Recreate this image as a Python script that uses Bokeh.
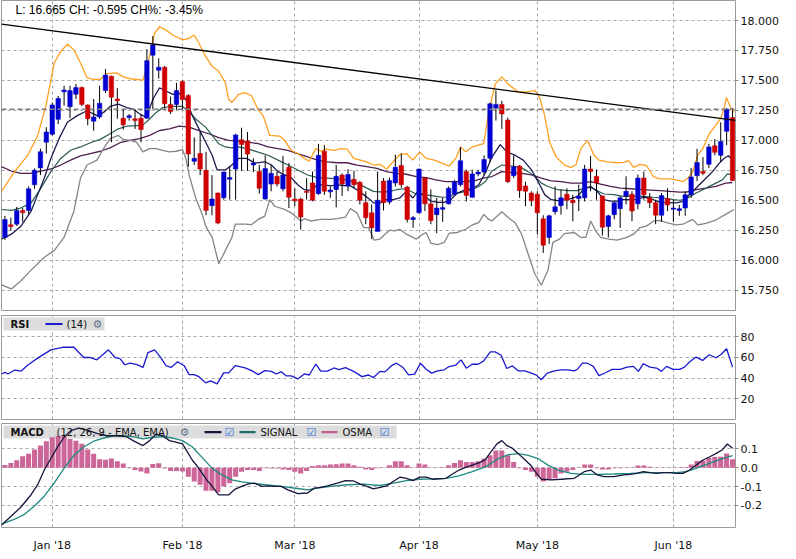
from bokeh.plotting import figure
from bokeh.models import (Range1d, FixedTicker, Grid, Label, BoxAnnotation, Span,
                          ColumnDataSource, NumeralTickFormatter)
from bokeh.layouts import column
from bokeh.embed import file_html
from bokeh.resources import INLINE

# ---------------- data ----------------
month_idx = [8, 30, 49, 70, 90, 113]
month_labels = ["Jan '18", "Feb '18", "Mar '18", "Apr '18", "May '18", "Jun '18"]

opens = [16.19, 16.295, 16.30, 16.415, 16.415, 16.63, 16.77, 16.985, 17.05, 17.175,
 17.405, 17.28, 17.385, 17.44, 17.295, 17.16, 17.195, 17.415, 17.535, 17.345,
 17.185, 17.19, 17.18, 17.185, 17.185, 17.71, 17.585, 17.61, 17.30, 17.30,
 17.49, 17.375, 16.825, 16.89, 16.75, 16.455, 16.56, 16.52, 16.675, 16.76,
 17.005, 16.995, 16.795, 16.74, 16.51, 16.635, 16.70, 16.595, 16.775, 16.51,
 16.51, 16.575, 16.645, 16.555, 16.91, 16.57, 16.59, 16.71, 16.62, 16.675,
 16.65, 16.48, 16.395, 16.24, 16.66, 16.485, 16.645, 16.79, 16.61, 16.34,
 16.395, 16.685, 16.47, 16.38, 16.425, 16.47, 16.55, 16.63, 16.74, 16.525,
 16.72, 16.735, 16.85, 17.27, 17.30, 17.17, 16.705, 16.785, 16.62, 16.56,
 16.55, 16.345, 16.19, 16.405, 16.455, 16.55, 16.50, 16.515, 16.52, 16.76,
 16.70, 16.535, 16.28, 16.38, 16.43, 16.535, 16.55, 16.47, 16.685, 16.52,
 16.48, 16.375, 16.515, 16.425, 16.415, 16.435, 16.545, 16.705, 16.74, 16.80,
 16.955, 16.875, 17.075, 17.19]
highs = [16.37, 16.355, 16.445, 16.435, 16.615, 16.765, 16.93, 17.11, 17.315, 17.37,
 17.455, 17.455, 17.47, 17.45, 17.30, 17.345, 17.455, 17.595, 17.54, 17.435,
 17.26, 17.22, 17.26, 17.22, 17.76, 17.87, 17.685, 17.62, 17.365, 17.48,
 17.50, 17.385, 17.025, 17.07, 16.905, 16.71, 16.565, 16.74, 16.78, 17.055,
 17.105, 17.07, 16.85, 16.795, 16.875, 16.795, 16.74, 16.87, 16.81, 16.60,
 16.52, 16.685, 16.74, 16.97, 16.96, 16.615, 16.795, 16.725, 16.76, 16.745,
 16.66, 16.575, 16.465, 16.74, 16.685, 16.69, 16.88, 16.89, 16.62, 16.37,
 16.765, 16.69, 16.59, 16.52, 16.52, 16.615, 16.67, 16.945, 16.755, 16.755,
 16.755, 16.875, 17.315, 17.415, 17.33, 17.19, 16.875, 16.795, 16.655, 16.575,
 16.575, 16.375, 16.38, 16.615, 16.59, 16.60, 16.545, 16.63, 16.795, 16.87,
 16.755, 16.54, 16.38, 16.49, 16.535, 16.70, 16.575, 16.715, 16.74, 16.56,
 16.505, 16.56, 16.60, 16.505, 16.46, 16.575, 16.77, 16.93, 16.86, 16.97,
 17.01, 17.15, 17.27, 17.27]
lows = [16.17, 16.245, 16.285, 16.32, 16.38, 16.595, 16.71, 16.89, 17.04, 17.135,
 17.29, 17.185, 17.345, 17.285, 17.125, 17.08, 17.18, 17.395, 16.985, 17.18,
 17.09, 17.165, 17.095, 16.985, 17.18, 17.26, 17.515, 17.26, 17.22, 17.255,
 17.255, 16.78, 16.795, 16.71, 16.375, 16.375, 16.30, 16.505, 16.505, 16.505,
 16.745, 16.745, 16.735, 16.555, 16.505, 16.575, 16.615, 16.575, 16.435, 16.45,
 16.255, 16.505, 16.49, 16.545, 16.545, 16.52, 16.44, 16.535, 16.575, 16.60,
 16.465, 16.30, 16.175, 16.24, 16.415, 16.465, 16.615, 16.605, 16.315, 16.27,
 16.39, 16.41, 16.30, 16.225, 16.32, 16.465, 16.545, 16.615, 16.49, 16.52,
 16.70, 16.71, 16.82, 17.165, 17.095, 16.645, 16.685, 16.52, 16.45, 16.45,
 16.215, 16.06, 16.135, 16.38, 16.38, 16.425, 16.325, 16.41, 16.49, 16.575,
 16.505, 16.205, 16.19, 16.34, 16.27, 16.465, 16.325, 16.425, 16.505, 16.435,
 16.30, 16.32, 16.41, 16.32, 16.37, 16.37, 16.52, 16.66, 16.71, 16.77,
 16.875, 16.82, 16.96, 16.66]
closes = [16.34, 16.28, 16.415, 16.395, 16.595, 16.75, 16.905, 17.07, 17.295, 17.35,
 17.42, 17.415, 17.44, 17.30, 17.18, 17.195, 17.31, 17.545, 17.36, 17.33,
 17.13, 17.205, 17.165, 17.09, 17.665, 17.795, 17.61, 17.305, 17.24, 17.415,
 17.34, 16.885, 16.85, 16.76, 16.415, 16.51, 16.31, 16.735, 16.69, 17.045,
 16.965, 16.885, 16.81, 16.60, 16.765, 16.725, 16.635, 16.71, 16.525, 16.495,
 16.36, 16.565, 16.50, 16.875, 16.575, 16.585, 16.70, 16.635, 16.715, 16.63,
 16.50, 16.355, 16.27, 16.50, 16.48, 16.665, 16.775, 16.63, 16.34, 16.355,
 16.76, 16.47, 16.33, 16.435, 16.44, 16.60, 16.655, 16.83, 16.54, 16.72,
 16.735, 16.84, 17.305, 17.30, 17.22, 16.655, 16.78, 16.58, 16.575, 16.495,
 16.395, 16.125, 16.37, 16.445, 16.52, 16.50, 16.48, 16.535, 16.76, 16.74,
 16.645, 16.275, 16.37, 16.48, 16.52, 16.575, 16.41, 16.685, 16.545, 16.48,
 16.375, 16.54, 16.46, 16.435, 16.43, 16.545, 16.695, 16.815, 16.725, 16.945,
 16.90, 16.99, 17.26, 16.665]

upper_band = [[-0.58,16.574],[1.64,16.739],[3.87,16.876],[5.54,17.041],[6.93,17.288],[8.32,17.645],[9.43,17.742],[10.55,17.802],[11.66,17.755],[12.77,17.645],[13.88,17.522],[15.0,17.508],[16.11,17.508],[17.22,17.557],[18.89,17.563],[20.0,17.53],[21.12,17.514],[23.34,17.503],[24.18,17.645],[25.29,17.893],[26.13,17.948],[27.24,17.92],[28.35,17.879],[30.02,17.838],[31.14,17.851],[31.97,17.879],[32.8,17.81],[33.92,17.70],[35.03,17.618],[36.14,17.577],[37.26,17.48],[37.81,17.343],[38.37,17.316],[39.48,17.384],[40.6,17.398],[41.71,17.37],[42.82,17.255],[43.65,17.206],[44.77,17.041],[46.44,17.036],[47.27,17.0],[48.38,16.917],[49.5,16.89],[50.61,16.849],[51.44,16.827],[52.56,16.931],[53.39,16.909],[54.23,16.926],[55.62,16.917],[56.73,16.931],[57.84,16.926],[58.96,16.849],[60.07,16.835],[61.18,16.821],[62.3,16.794],[63.41,16.8],[64.52,16.761],[65.64,16.821],[66.75,16.882],[67.86,16.89],[68.97,16.835],[70.09,16.904],[71.2,16.849],[72.59,16.835],[73.98,16.808],[75.1,16.786],[76.21,16.849],[77.04,16.945],[77.88,16.904],[78.99,16.945],[80.94,16.972],[81.77,17.233],[82.89,17.47],[84.0,17.53],[85.12,17.467],[86.79,17.404],[88.45,17.404],[89.57,17.417],[90.4,17.357],[91.24,17.206],[92.07,16.986],[93.18,16.862],[94.58,16.794],[95.69,16.775],[96.52,16.794],[97.36,16.931],[98.47,17.0],[99.58,16.876],[100.42,16.835],[101.81,16.821],[103.48,16.813],[104.59,16.816],[105.43,16.83],[106.26,16.775],[107.38,16.8],[108.49,16.788],[109.6,16.698],[110.71,16.678],[112.38,16.678],[113.5,16.67],[114.61,16.656],[115.44,16.684],[116.28,16.739],[117.11,16.876],[117.95,16.93],[119.06,17.055],[120.17,17.125],[121.01,17.185],[121.56,17.261],[121.95,17.357],[122.68,17.274],[123.23,17.233]]
lower_band = [[-0.58,15.794],[1.09,15.76],[2.75,15.83],[4.09,15.90],[6.65,16.025],[8.32,16.08],[9.99,16.19],[11.66,16.409],[12.77,16.684],[13.88,16.794],[15.55,16.835],[16.67,16.931],[17.78,17.014],[19.17,17.041],[20.0,17.008],[21.12,17.0],[22.23,16.986],[22.79,16.945],[23.34,16.904],[24.46,16.931],[25.57,16.931],[26.68,16.917],[27.8,16.904],[28.91,16.909],[30.02,16.923],[30.58,16.849],[31.14,16.711],[32.25,16.519],[33.36,16.382],[33.92,16.286],[35.03,16.19],[36.14,15.97],[37.26,16.08],[38.37,16.19],[38.93,16.3],[40.6,16.3],[41.71,16.297],[42.82,16.34],[43.93,16.368],[44.77,16.505],[45.6,16.45],[47.27,16.423],[48.38,16.395],[50.05,16.327],[50.61,16.346],[51.72,16.327],[53.39,16.34],[55.06,16.34],[56.17,16.346],[57.57,16.36],[58.4,16.431],[59.51,16.395],[60.63,16.272],[61.46,16.272],[62.41,16.167],[63.41,16.176],[64.24,16.217],[65.08,16.25],[65.91,16.244],[66.75,16.258],[67.86,16.217],[69.53,16.176],[70.64,16.217],[71.2,16.231],[72.03,16.14],[73.15,16.129],[74.26,16.148],[75.1,16.225],[76.49,16.231],[77.88,16.258],[78.99,16.294],[80.1,16.313],[80.94,16.382],[81.77,16.34],[82.33,16.327],[84.0,16.404],[85.12,16.354],[86.23,16.313],[87.34,16.217],[88.45,16.052],[89.57,15.887],[90.68,15.791],[91.79,15.915],[92.63,16.148],[93.74,16.176],[94.58,16.222],[96.25,16.231],[97.36,16.19],[98.19,16.19],[99.03,16.327],[99.86,16.244],[100.7,16.19],[102.09,16.176],[103.48,16.167],[105.15,16.19],[106.26,16.217],[107.38,16.272],[108.49,16.286],[109.6,16.325],[110.71,16.332],[111.83,16.313],[113.5,16.294],[114.61,16.3],[115.44,16.321],[116.28,16.34],[117.11,16.294],[118.5,16.308],[120.17,16.335],[121.84,16.382],[123.23,16.423]]
ma_fast = [[-0.58,16.176],[1.09,16.217],[2.75,16.286],[4.42,16.409],[5.54,16.547],[6.65,16.684],[7.76,16.849],[9.15,17.014],[10.55,17.151],[12.22,17.206],[13.88,17.247],[15.55,17.206],[16.67,17.233],[17.78,17.283],[19.17,17.302],[20.56,17.274],[21.67,17.261],[22.79,17.22],[23.9,17.192],[25.02,17.343],[26.13,17.439],[27.24,17.412],[28.35,17.384],[29.47,17.393],[30.58,17.343],[31.69,17.206],[32.8,17.096],[33.92,16.986],[35.03,16.876],[35.87,16.753],[37.26,16.753],[38.37,16.794],[39.48,16.849],[40.87,16.849],[42.27,16.81],[43.93,16.821],[45.04,16.794],[46.16,16.739],[47.27,16.711],[48.38,16.689],[49.5,16.629],[50.61,16.588],[51.72,16.582],[52.84,16.629],[53.95,16.629],[55.06,16.62],[56.17,16.629],[57.29,16.623],[58.4,16.62],[59.51,16.588],[60.63,16.547],[61.74,16.505],[62.3,16.478],[63.41,16.478],[64.52,16.505],[65.64,16.505],[66.75,16.519],[67.86,16.574],[68.97,16.519],[69.81,16.574],[70.92,16.538],[72.03,16.492],[73.15,16.483],[74.26,16.483],[75.37,16.505],[76.49,16.56],[77.88,16.588],[78.99,16.596],[80.1,16.629],[81.22,16.73],[82.33,16.86],[83.72,16.964],[84.84,16.904],[86.23,16.876],[87.62,16.835],[89.01,16.753],[90.12,16.656],[91.24,16.547],[92.35,16.505],[93.46,16.497],[94.85,16.505],[95.69,16.514],[96.8,16.533],[97.91,16.596],[99.03,16.615],[100.14,16.574],[101.25,16.505],[102.37,16.492],[103.48,16.492],[104.59,16.505],[106.82,16.505],[107.93,16.525],[109.04,16.519],[110.16,16.492],[111.27,16.483],[113.5,16.478],[114.61,16.49],[115.16,16.519],[116.28,16.574],[117.39,16.629],[118.5,16.684],[119.62,16.739],[120.73,16.808],[121.56,16.849],[122.29,16.871],[123.23,16.827]]
ma_mid = [[-0.58,16.423],[1.09,16.415],[2.75,16.437],[4.42,16.478],[6.09,16.601],[7.76,16.739],[9.43,16.849],[11.1,16.917],[12.77,16.945],[14.44,16.98],[16.11,17.008],[17.78,17.055],[19.17,17.096],[20.56,17.118],[22.23,17.123],[23.34,17.129],[24.46,17.178],[25.57,17.233],[26.68,17.274],[28.35,17.283],[30.02,17.283],[31.14,17.239],[32.25,17.178],[33.92,17.11],[35.03,17.041],[36.14,16.972],[37.26,16.945],[38.37,16.937],[39.48,16.945],[40.87,16.931],[42.27,16.91],[44.49,16.876],[46.16,16.835],[47.83,16.794],[49.5,16.753],[51.17,16.711],[52.84,16.689],[54.51,16.684],[56.17,16.678],[57.84,16.67],[59.51,16.643],[61.18,16.601],[62.3,16.574],[63.97,16.568],[65.08,16.574],[66.19,16.588],[67.3,16.596],[68.42,16.58],[69.53,16.552],[70.64,16.547],[71.76,16.541],[72.87,16.533],[73.98,16.525],[75.1,16.527],[76.21,16.555],[77.88,16.574],[78.99,16.588],[80.1,16.615],[81.22,16.656],[82.33,16.745],[84.0,16.794],[85.67,16.786],[87.34,16.772],[88.45,16.739],[89.57,16.698],[90.68,16.643],[91.79,16.615],[93.46,16.588],[95.13,16.58],[96.8,16.58],[97.91,16.601],[99.03,16.607],[100.14,16.58],[101.25,16.552],[102.92,16.547],[104.59,16.533],[106.26,16.533],[107.93,16.533],[109.6,16.525],[111.27,16.519],[112.94,16.505],[114.05,16.5],[115.16,16.51],[116.83,16.56],[118.5,16.601],[120.17,16.643],[121.29,16.67],[122.12,16.72],[123.23,16.711]]
ma_slow = [[-0.58,16.78],[1.09,16.744],[2.75,16.725],[4.42,16.725],[6.09,16.744],[7.76,16.761],[9.43,16.794],[11.1,16.835],[12.77,16.871],[14.44,16.89],[16.11,16.909],[17.78,16.937],[19.45,16.98],[21.12,17.0],[22.79,17.014],[24.46,17.041],[26.13,17.082],[27.8,17.096],[29.47,17.118],[31.14,17.11],[32.8,17.082],[34.47,17.055],[36.14,17.022],[37.81,17.0],[39.48,16.994],[41.15,16.986],[42.82,16.972],[44.49,16.945],[46.16,16.931],[47.83,16.917],[49.5,16.89],[51.17,16.862],[52.84,16.835],[54.51,16.821],[56.17,16.813],[57.84,16.813],[59.51,16.794],[61.18,16.78],[62.85,16.766],[64.52,16.739],[66.19,16.725],[67.86,16.717],[69.53,16.698],[71.2,16.689],[72.87,16.67],[74.54,16.656],[76.21,16.656],[77.88,16.656],[79.55,16.665],[81.22,16.689],[82.33,16.698],[84.0,16.739],[85.67,16.731],[87.34,16.725],[89.01,16.711],[90.68,16.684],[92.35,16.662],[94.02,16.656],[95.69,16.643],[97.36,16.643],[99.03,16.656],[100.7,16.634],[102.37,16.615],[104.04,16.601],[105.71,16.596],[107.38,16.59],[109.04,16.585],[110.71,16.58],[112.38,16.574],[114.05,16.568],[115.16,16.568],[116.83,16.588],[118.5,16.601],[120.17,16.615],[121.84,16.643],[122.96,16.648]]
trend_x = [-0.58, 123.5]
trend_y = [17.97, 17.166]

rsi = [[-0.58,44.0],[0.0,45.6],[0.53,44.0],[1.64,47.8],[2.75,46.8],[3.87,52.6],[5.54,59.3],[7.76,67.3],[8.32,67.9],[9.71,69.8],[11.66,69.8],[12.49,64.7],[13.33,59.9],[14.44,59.9],[15.55,57.7],[17.5,67.3],[18.61,59.9],[19.45,58.9],[20.28,52.9],[21.12,54.5],[22.23,53.2],[23.34,50.3],[24.18,64.7],[25.29,67.3],[26.13,61.5],[27.24,52.0],[28.07,50.3],[29.19,55.8],[30.3,52.0],[31.14,43.4],[31.97,43.4],[32.8,41.4],[33.92,35.4],[34.75,37.3],[35.87,34.4],[36.98,45.0],[37.81,45.0],[38.93,52.0],[40.6,49.8],[41.71,47.2],[42.82,43.4],[43.93,47.2],[45.04,46.5],[45.88,44.0],[46.72,46.2],[47.55,42.1],[48.38,42.1],[49.5,39.2],[50.61,44.0],[51.44,43.0],[52.56,53.6],[53.39,46.8],[54.51,46.8],[55.62,49.8],[56.45,48.2],[57.57,50.1],[58.68,47.2],[59.51,44.6],[60.35,41.4],[61.46,43.0],[62.3,40.5],[63.41,46.5],[64.24,46.0],[65.35,52.0],[66.19,54.4],[67.3,50.2],[68.25,43.2],[69.25,43.8],[70.25,54.4],[71.2,48.6],[72.14,44.8],[73.15,47.0],[74.26,48.0],[75.09,51.2],[76.2,52.5],[77.1,57.6],[77.99,49.6],[78.99,53.4],[80.0,53.4],[80.94,56.6],[82.05,65.3],[82.88,65.3],[83.88,62.1],[84.83,49.3],[85.78,51.8],[86.78,47.0],[87.89,47.0],[89.0,44.8],[89.84,42.9],[90.67,38.4],[91.68,44.8],[92.9,47.0],[94.01,48.0],[95.13,48.0],[96.24,47.0],[96.8,48.6],[97.63,54.4],[98.47,54.4],[99.47,51.4],[100.41,42.4],[101.53,45.2],[102.64,48.4],[104.03,48.4],[105.15,50.6],[106.26,51.3],[107.09,46.5],[107.93,53.9],[109.04,50.6],[110.15,49.7],[110.99,46.5],[111.82,51.3],[112.94,48.4],[114.05,48.4],[114.88,50.6],[115.72,55.5],[116.83,60.3],[117.94,57.1],[119.06,62.6],[120.17,59.7],[121.0,62.6],[122.0,68.4],[123.0,50.6]]

macd = [[-0.58,-0.304],[1.09,-0.256],[2.75,-0.207],[4.42,-0.143],[5.54,-0.09],[6.65,-0.012],[7.76,0.049],[8.88,0.11],[9.99,0.162],[11.1,0.197],[12.49,0.21],[13.88,0.20],[15.55,0.183],[17.22,0.17],[18.89,0.17],[20.56,0.165],[21.67,0.144],[23.34,0.118],[24.46,0.144],[25.57,0.179],[26.68,0.17],[27.8,0.144],[28.91,0.136],[30.02,0.127],[30.86,0.083],[31.69,0.04],[32.8,-0.003],[33.92,-0.056],[35.03,-0.099],[36.14,-0.144],[37.81,-0.144],[38.93,-0.113],[40.04,-0.099],[41.15,-0.085],[42.27,-0.082],[43.38,-0.099],[44.49,-0.096],[45.6,-0.099],[46.72,-0.099],[47.83,-0.117],[49.5,-0.137],[51.17,-0.134],[52.28,-0.108],[53.39,-0.104],[54.51,-0.096],[56.18,-0.082],[57.57,-0.068],[58.96,-0.07],[60.07,-0.087],[61.19,-0.099],[62.3,-0.112],[63.42,-0.104],[64.53,-0.096],[65.64,-0.073],[66.75,-0.05],[67.87,-0.056],[68.98,-0.068],[70.09,-0.05],[71.21,-0.05],[72.32,-0.061],[74.55,-0.056],[75.66,-0.033],[76.77,-0.012],[77.88,0.002],[79.0,0.014],[80.11,0.026],[81.22,0.043],[82.34,0.092],[83.17,0.127],[84.0,0.144],[84.84,0.118],[85.67,0.106],[86.79,0.075],[87.9,0.043],[89.01,0.009],[89.85,-0.03],[90.68,-0.061],[92.35,-0.064],[94.02,-0.061],[96.25,-0.056],[97.92,-0.021],[99.03,-0.012],[100.14,-0.038],[101.26,-0.047],[102.93,-0.047],[104.59,-0.038],[105.71,-0.035],[106.82,-0.03],[107.93,-0.021],[109.05,-0.026],[110.16,-0.03],[111.27,-0.026],[112.39,-0.026],[113.5,-0.03],[114.61,-0.03],[115.73,-0.012],[116.84,0.014],[117.95,0.04],[119.06,0.057],[120.18,0.075],[121.29,0.096],[122.12,0.126],[123.0,0.103]]
signal = [[-0.58,-0.299],[1.64,-0.273],[3.31,-0.247],[4.98,-0.203],[6.65,-0.151],[8.32,-0.082],[9.99,-0.003],[11.66,0.066],[13.33,0.11],[15.0,0.141],[16.67,0.158],[18.34,0.17],[20.0,0.17],[21.67,0.165],[23.34,0.153],[25.02,0.162],[26.68,0.165],[28.35,0.158],[30.02,0.144],[31.69,0.11],[33.36,0.054],[35.03,-0.003],[36.7,-0.038],[38.37,-0.064],[40.04,-0.075],[41.71,-0.082],[43.93,-0.09],[46.72,-0.099],[49.5,-0.11],[51.17,-0.117],[52.84,-0.108],[55.06,-0.099],[57.85,-0.09],[60.63,-0.087],[63.42,-0.094],[65.64,-0.082],[67.87,-0.068],[70.09,-0.061],[72.32,-0.059],[74.55,-0.056],[76.77,-0.043],[79.0,-0.021],[81.22,0.005],[83.45,0.049],[85.12,0.07],[86.79,0.075],[88.46,0.066],[90.13,0.049],[91.8,0.014],[93.47,-0.012],[95.69,-0.03],[97.92,-0.035],[100.14,-0.035],[102.93,-0.033],[105.71,-0.03],[108.49,-0.026],[111.27,-0.026],[113.5,-0.026],[115.17,-0.021],[116.84,-0.003],[119.06,0.023],[121.29,0.049],[123.0,0.064]]
osma = [0.015, 0.026, 0.04, 0.061, 0.075, 0.097, 0.118, 0.141, 0.162, 0.17,
 0.17, 0.153, 0.144, 0.127, 0.097, 0.075, 0.045, 0.043, 0.049, 0.035,
 0.023, -0.003, -0.012, -0.02, -0.03, 0.02, 0.024, -0.004, -0.017, -0.017,
 -0.02, -0.047, -0.073, -0.09, -0.122, -0.122, -0.13, -0.1, -0.082, -0.047,
 -0.021, -0.012, -0.012, -0.017, -0.003, -0.004, -0.004, -0.009, -0.012, -0.021,
 -0.03, -0.017, 0.009, 0.014, 0.014, 0.017, 0.019, 0.023, 0.023, 0.014,
 0.005, -0.009, -0.012, -0.003, 0.002, 0.014, 0.035, 0.035, 0.014, 0.002,
 0.023, 0.017, 0.002, 0.002, 0.003, 0.014, 0.026, 0.04, 0.031, 0.031,
 0.035, 0.049, 0.066, 0.092, 0.092, 0.066, 0.031, -0.003, -0.012, -0.021,
 -0.047, -0.073, -0.064, -0.056, -0.03, -0.021, -0.012, 0.002, 0.017, 0.017,
 -0.003, -0.009, -0.009, -0.003, -0.003, 0.002, 0.002, 0.012, 0.012, 0.005,
 0.002, 0.001, 0.001, 0.002, 0.002, 0.003, 0.017, 0.036, 0.038, 0.053,
 0.057, 0.058, 0.076, 0.045]

# ---------------- styling ----------------
FW = 734
XR = Range1d(-0.58, 123.5)
GRID_C = "#a6a6a6"
TICK_FONT = "DejaVu Sans"
UP_C, DN_C = "#0000d0", "#d00000"


def make_fig(fh, y0, y1, yticks, bottom, with_xaxis):
    p = figure(frame_width=FW, frame_height=fh, x_range=XR, y_range=Range1d(y0, y1),
               y_axis_location="right", x_axis_location="below" if with_xaxis else None,
               toolbar_location=None, output_backend="svg",
               min_border_left=1, min_border_right=50, min_border_top=0,
               min_border_bottom=bottom)
    p.outline_line_color = "#9a9a9a"
    p.outline_line_width = 1
    for g in p.xgrid:
        g.visible = False
    p.add_layout(Grid(dimension=0, ticker=FixedTicker(ticks=month_idx),
                      grid_line_color=GRID_C, grid_line_dash="3 3"))
    p.yaxis.ticker = FixedTicker(ticks=yticks)
    p.ygrid.grid_line_color = GRID_C
    p.ygrid.grid_line_dash = "3 3"
    ax = p.yaxis[0]
    ax.axis_line_color = None
    ax.major_tick_line_color = "#888888"
    ax.major_tick_out = 3
    ax.major_tick_in = 0
    ax.minor_tick_line_color = None
    ax.major_label_standoff = 2
    ax.major_label_text_font = TICK_FONT
    ax.major_label_text_font_size = "11px"
    ax.major_label_text_color = "#111111"
    return p


def sx(p, px):
    return p.x_range.start + (p.x_range.end - p.x_range.start) * px / p.frame_width


def sy(p, py):
    return p.y_range.end - (p.y_range.end - p.y_range.start) * py / p.frame_height


def xs(pts):
    return [a for a, _ in pts]


def ys(pts):
    return [b for _, b in pts]


# ---------------- price panel ----------------
price_ticks = [15.75 + 0.25 * k for k in range(10)]
p1 = make_fig(310, 15.58, 18.167, price_ticks, 5, False)
p1.yaxis.formatter = NumeralTickFormatter(format="0.000")

p1.line(xs(ma_slow), ys(ma_slow), line_color="#4f1f4f", line_width=1.3)
p1.line(xs(ma_mid), ys(ma_mid), line_color="#2c5c52", line_width=1.2)
p1.line(xs(ma_fast), ys(ma_fast), line_color="#1c1c50", line_width=1.3)
p1.line(xs(lower_band), ys(lower_band), line_color="#858585", line_width=1.3)
p1.line(xs(upper_band), ys(upper_band), line_color="#ffa020", line_width=1.3)

idx = list(range(len(closes)))
colors = [UP_C if c >= o else DN_C for o, c in zip(opens, closes)]
src = ColumnDataSource(dict(x=idx, o=opens, h=highs, l=lows, c=closes,
                            top=[max(o, c) for o, c in zip(opens, closes)],
                            bot=[min(o, c) for o, c in zip(opens, closes)],
                            col=colors))
p1.segment(x0="x", y0="l", x1="x", y1="h", source=src, line_color="black", line_width=1)
p1.vbar(x="x", width=0.76, top="top", bottom="bot", source=src,
        fill_color="col", line_color="col", line_width=0.5)

p1.line(trend_x, trend_y, line_color="black", line_width=1.3)
p1.add_layout(Span(location=closes[-2], dimension="width", line_color="#808080",
                   line_dash="5 3", line_width=1.4))

last = closes[-1]
ch = closes[-1] - closes[-2]
pct = ch / closes[-2] * 100
p1.add_layout(Label(x=sx(p1, 14), y=sy(p1, 9), text=f"L: {last:.3f} CH: {ch:.3f} CH%: {pct:.2f}%",
                    text_font="Liberation Sans", text_font_size="12px",
                    text_baseline="middle", text_color="#000000"))

# ---------------- RSI panel ----------------
p2 = make_fig(104, 0.0, 100.5, [20, 40, 60, 80], 4, False)
p2.add_layout(BoxAnnotation(left=sx(p2, 2), right=sx(p2, 103), top=sy(p2, 2), bottom=sy(p2, 15),
                            fill_color="#dcdcdc", fill_alpha=1.0, line_color=None, level="underlay"))
p2.line(xs(rsi), ys(rsi), line_color="#1a1ad0", line_width=1.3)
p2.line([sx(p2, 44), sx(p2, 61)], [sy(p2, 8.5)] * 2, line_color="#1a1ad0", line_width=2.2)
hdr = dict(text_font="DejaVu Sans", text_font_size="10px", text_baseline="middle", text_color="#111111")
p2.add_layout(Label(x=sx(p2, 9), y=sy(p2, 8.5), text="RSI", text_font_style="bold", **hdr))
p2.add_layout(Label(x=sx(p2, 65), y=sy(p2, 8.5), text="(14)", **hdr))
icon = dict(text_font="DejaVu Sans", text_font_size="11px", text_baseline="middle",
            text_align="center", text_color="#5f7389")
p2.add_layout(Label(x=sx(p2, 96), y=sy(p2, 8.5), text="\u2699", **icon))

# ---------------- MACD panel ----------------
p3 = make_fig(104, -0.317, 0.235, [-0.2, -0.1, 0.0, 0.1], 0, True)
p3.yaxis.formatter = NumeralTickFormatter(format="0.0")
p3.add_layout(BoxAnnotation(left=sx(p3, 2), right=sx(p3, 395), top=sy(p3, 2), bottom=sy(p3, 15),
                            fill_color="#dcdcdc", fill_alpha=1.0, line_color=None, level="underlay"))
p3.vbar(x=idx, width=0.85, top=[max(v, 0) for v in osma], bottom=[min(v, 0) for v in osma],
        fill_color="#cc6699", line_color=None)
p3.line(xs(signal), ys(signal), line_color="#1f8a80", line_width=1.3)
p3.line(xs(macd), ys(macd), line_color="#16163c", line_width=1.3)

cy = sy(p3, 8.7)
p3.add_layout(Label(x=sx(p3, 9), y=cy, text="MACD", text_font_style="bold", **hdr))
p3.add_layout(Label(x=sx(p3, 55), y=cy, text="(12, 26, 9 - EMA, EMA)", **hdr))
p3.add_layout(Label(x=sx(p3, 183), y=cy, text="\u2699", **icon))
p3.line([sx(p3, 203), sx(p3, 220)], [cy, cy], line_color="#16163c", line_width=2.2)
p3.line([sx(p3, 238), sx(p3, 254)], [cy, cy], line_color="#1f6f68", line_width=2.2)
p3.line([sx(p3, 320), sx(p3, 336)], [cy, cy], line_color="#c06090", line_width=2.2)
p3.add_layout(Label(x=sx(p3, 259), y=cy, text="SIGNAL", **hdr))
p3.add_layout(Label(x=sx(p3, 341), y=cy, text="OSMA", **hdr))
chk = dict(text_font="DejaVu Sans", text_font_size="11px", text_baseline="middle",
           text_align="center", text_color="#2a6fd8")
for cxp in (228, 310, 383):
    p3.add_layout(Label(x=sx(p3, cxp), y=cy, text="\u2611", **chk))

xa = p3.xaxis[0]
xa.ticker = FixedTicker(ticks=month_idx)
xa.major_label_overrides = {t: l for t, l in zip(month_idx, month_labels)}
xa.axis_line_color = None
xa.major_tick_line_color = None
xa.minor_tick_line_color = None
xa.major_label_standoff = 5
xa.major_label_text_font = TICK_FONT
xa.major_label_text_font_size = "11px"
xa.major_label_text_color = "#111111"

layout = column(p1, p2, p3, spacing=0)
open("out.html", "w").write(file_html(layout, INLINE))
